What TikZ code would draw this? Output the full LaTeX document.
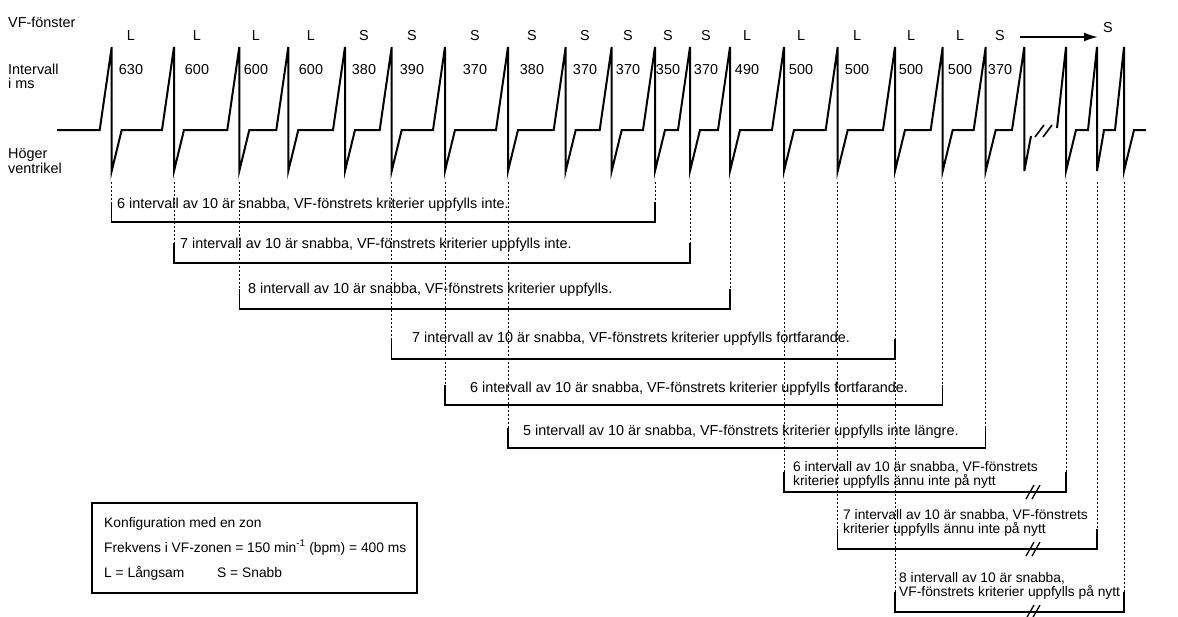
\documentclass[tikz,border=0pt]{standalone}
\usepackage{fontspec}
\setmainfont{Liberation Sans}
\usetikzlibrary{calc}
\usetikzlibrary{arrows.meta}

\begin{document}
\begin{tikzpicture}[x=1pt,y=-1pt,
  trace/.style={line width=2pt},
  brk/.style={line width=1.3pt},
  guide/.style={line width=1pt,dash pattern=on 2pt off 2pt},
  lbl/.style={anchor=base,inner sep=0pt,font=\fontsize{14.4}{16}\selectfont},
  txt/.style={anchor=base west,inner sep=0pt,font=\fontsize{14.4}{16}\selectfont},
  txs/.style={txt,font=\fontsize{13.8}{16}\selectfont}]
\useasboundingbox (0,0) rectangle (1178,616);

\foreach \x [count=\i] in {111.7,174,239.3,288.3,345,391.7,445,508,565.7,611.7,655,690,730,784,837.7,895,942.7,985.7,1024.3,1066,1097,1124}
  \coordinate (s\i) at (\x,182);

\draw[trace] (57,130) foreach \x in {111.7,174,239.3,288.3,345,391.7,445,508,565.7,611.7,655,690,730,784,837.7,895,942.7,985.7}
  { -- (\x-12,130) -- (\x,47) -- (\x,171) -- (\x+10,130) }
  -- (1012,130) -- (1024.3,47) -- (1024.3,171) -- (1031,136);
\draw[trace] (1057,128) -- (1066,47) -- (1066,171) -- (1076,130) -- (1088,130) -- (1097,47) -- (1097,171)
  -- (1104,130) -- (1115,130) -- (1124,47) -- (1124,171) -- (1134,130) -- (1146,130);
\draw[line width=1.6pt] (1035,137) -- (1044,125);
\draw[line width=1.6pt] (1043,137) -- (1052,125);

\coordinate (a1) at (1020,37);
\coordinate (a2) at (1098,37);
\draw[-{Latex[length=14pt,width=9pt]},line width=1.8pt] (a1) -- (a2);
\node[lbl] (wS) at (1108,32) {S};

\node[txt] (vf) at (8,27) {VF-fönster};
\node[txt] (iv) at (8,74.5) {Intervall};
\node[txt] (ims) at (8,88) {i ms};
\node[txt] (hg) at (8,158) {Höger};
\node[txt] (vt) at (8,173) {ventrikel};

\foreach \x/\r/\v [count=\i] in {131/L/630,197/L/600,256/L/600,311/L/600,364/S/380,412/S/390,475/S/370,532/S/380,585/S/370,628/S/370,668/S/350,706/S/370,747/L/490,801/L/500,857/L/500,911/L/500,960/L/500,1000/S/370}
{
  \node[lbl] (w\i) at (\x,40) {\r};
  \node[lbl] (n\i) at (\x,74) {\v};
}

\foreach \a/\b/\y [count=\i] in {1/11/222,2/12/263,3/13/309,6/16/359,7/17/405,8/18/448,14/20/492,15/21/549,16/22/612}
{
  \path (s\a) ++(0,\y-182) coordinate (bl\i);
  \path (s\b) ++(0,\y-182) coordinate (br\i);
  \draw[guide] (s\a) -- (bl\i);
  \draw[guide] (s\b) -- (br\i);
  \draw[brk] ([yshift=20pt]bl\i) -- (bl\i) -- (br\i) -- ([yshift=20pt]br\i);
}

\foreach \y [count=\i from 7] in {492,549,612}
{
  \coordinate (m\i) at (1033,\y);
  \draw[brk] ([xshift=-7pt,yshift=-7pt]m\i) -- ([xshift=1pt,yshift=7pt]m\i);
  \draw[brk] ([xshift=-1pt,yshift=-7pt]m\i) -- ([xshift=7pt,yshift=7pt]m\i);
}

\node[txt] (t1) at (117,208) {6 intervall av 10 är snabba, VF-fönstrets kriterier uppfylls inte.};
\node[txt] (t2) at (180,248) {7 intervall av 10 är snabba, VF-fönstrets kriterier uppfylls inte.};
\node[txt] (t3) at (248,293) {8 intervall av 10 är snabba, VF-fönstrets kriterier uppfylls.};
\node[txt] (t4) at (412,342) {7 intervall av 10 är snabba, VF-fönstrets kriterier uppfylls fortfarande.};
\node[txt] (t5) at (470,392) {6 intervall av 10 är snabba, VF-fönstrets kriterier uppfylls fortfarande.};
\node[txt] (t6) at (523,435) {5 intervall av 10 är snabba, VF-fönstrets kriterier uppfylls inte längre.};
\node[txs] (t7a) at (793,471) {6 intervall av 10 är snabba, VF-fönstrets};
\node[txs] (t7b) at (793,485.5) {kriterier uppfylls ännu inte på nytt};
\node[txs] (t8a) at (843,519) {7 intervall av 10 är snabba, VF-fönstrets};
\node[txs] (t8b) at (843,533.5) {kriterier uppfylls ännu inte på nytt};
\node[txs] (t9a) at (899,582) {8 intervall av 10 är snabba,};
\node[txs] (t9b) at (899,596.5) {VF-fönstrets kriterier uppfylls på nytt};

\draw[brk] (92,503) rectangle (417,593);
\node[txs] (k1) at (104,527) {Konfiguration med en zon};
\node[txs] (k2) at (104,552) {Frekvens i VF-zonen = 150 min\textsuperscript{-1} (bpm) = 400 ms};
\node[txs] (k3) at (104,577) {L = Långsam};
\node[txs] (k4) at (217,577) {S = Snabb};
\end{tikzpicture}
\end{document}
